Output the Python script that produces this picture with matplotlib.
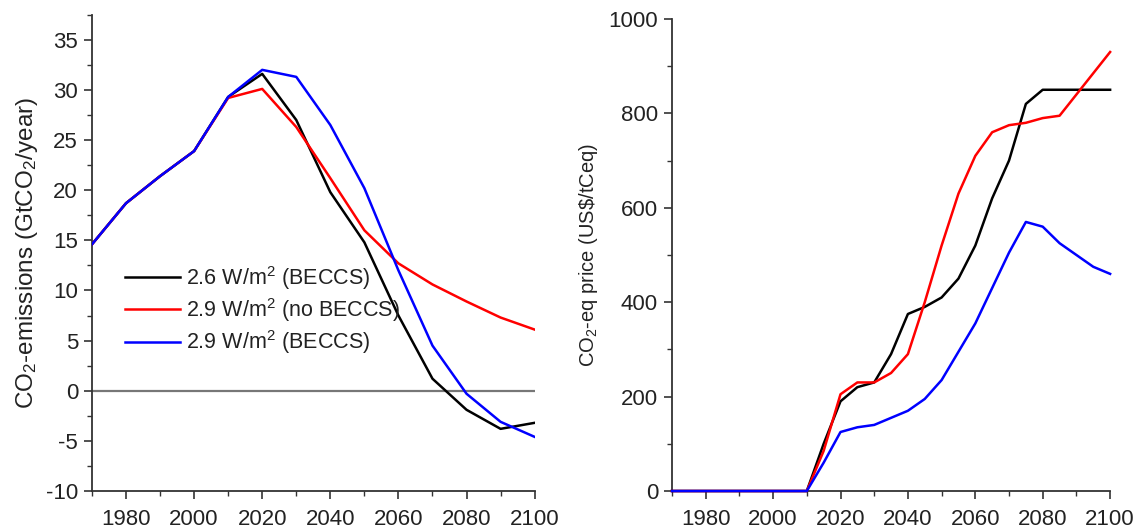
import matplotlib
matplotlib.use("Agg")
import matplotlib.pyplot as plt
from matplotlib.ticker import MultipleLocator

plt.rcParams['font.family'] = ['Liberation Sans', 'DejaVu Sans']
plt.rcParams['mathtext.fontset'] = 'custom'
plt.rcParams['mathtext.rm'] = 'Liberation Sans'
plt.rcParams['mathtext.it'] = 'Liberation Sans'
plt.rcParams['axes.unicode_minus'] = False

# ---- Left panel data: CO2 emissions (GtCO2/year), decadal ----
years_em = [1970, 1980, 1990, 2000, 2010, 2020, 2030, 2040, 2050, 2060, 2070, 2080, 2090, 2100]
em_26_beccs = [14.6, 18.7, 21.4, 23.9, 29.3, 31.6, 27.0, 19.8, 14.8, 7.5, 1.2, -1.9, -3.8, -3.2]
em_29_nobeccs = [14.6, 18.7, 21.4, 23.9, 29.2, 30.1, 26.3, 21.2, 16.0, 12.7, 10.6, 8.9, 7.3, 6.1]
em_29_beccs = [14.6, 18.7, 21.4, 23.9, 29.3, 32.0, 31.3, 26.5, 20.2, 12.0, 4.5, -0.3, -3.1, -4.6]

# ---- Right panel data: CO2-eq price (US$/tCeq) ----
years_pr = [1970, 1980, 1990, 2000, 2010, 2015, 2020, 2025, 2030, 2035, 2040, 2045, 2050,
            2055, 2060, 2065, 2070, 2075, 2080, 2085, 2090, 2095, 2100]
pr_26_beccs = [0, 0, 0, 0, 0, 100, 190, 220, 230, 290, 375, 390, 410,
               450, 520, 620, 700, 820, 850, 850, 850, 850, 850]
pr_29_nobeccs = [0, 0, 0, 0, 0, 85, 205, 230, 230, 250, 290, 400, 520,
                 630, 710, 760, 775, 780, 790, 795, 840, 885, 930]
pr_29_beccs = [0, 0, 0, 0, 0, 60, 125, 135, 140, 155, 170, 195, 235,
               295, 355, 430, 505, 570, 560, 525, 500, 475, 460]

labels = ['2.6 W/m$^2$ (BECCS)', '2.9 W/m$^2$ (no BECCS)', '2.9 W/m$^2$ (BECCS)']
colors = ['#000000', '#ff0000', '#0000ff']

txt = '#222222'
spine_c = '#333333'

fig = plt.figure(figsize=(11.38, 5.31), dpi=100)
ax1 = fig.add_axes([0.0808, 0.0753, 0.389, 0.897])
ax2 = fig.add_axes([0.5905, 0.0753, 0.385, 0.889])

def style(ax):
    for s in ['top', 'right']:
        ax.spines[s].set_visible(False)
    for s in ['left', 'bottom']:
        ax.spines[s].set_color(spine_c)
        ax.spines[s].set_linewidth(1.3)
    ax.tick_params(which='major', direction='out', length=6, width=1.2, colors=spine_c,
                   labelcolor=txt, labelsize=16)
    ax.tick_params(which='minor', direction='out', length=3.5, width=1.0, colors=spine_c)
    ax.xaxis.set_major_locator(MultipleLocator(20))
    ax.xaxis.set_minor_locator(MultipleLocator(10))
    ax.set_xlim(1970, 2100)
    ax.set_xticks([1980, 2000, 2020, 2040, 2060, 2080, 2100])
    ax.tick_params(axis='x', pad=7)
    ax.tick_params(axis='y', pad=4)

style(ax1)
ax1.axhline(0, color='#777777', lw=1.6, zorder=1)
for y, lab, c in zip([em_26_beccs, em_29_nobeccs, em_29_beccs], labels, colors):
    ax1.plot(years_em, y, color=c, lw=1.8, label=lab, zorder=3)
ax1.set_ylim(-10, 37.5)
ax1.yaxis.set_major_locator(MultipleLocator(5))
ax1.yaxis.set_minor_locator(MultipleLocator(2.5))
ax1.set_ylabel('CO$_2$-emissions (GtCO$_2$/year)', fontsize=17.5, color=txt, labelpad=4)
leg = ax1.legend(loc='upper left', bbox_to_anchor=(0.055, 0.495), frameon=False, fontsize=15.5,
                 handlelength=2.55, handletextpad=0.3, labelspacing=0.2, borderaxespad=0)
for t in leg.get_texts():
    t.set_color(txt)

style(ax2)
for y, lab, c in zip([pr_26_beccs, pr_29_nobeccs, pr_29_beccs], labels, colors):
    ax2.plot(years_pr, y, color=c, lw=1.8, label=lab, zorder=3, clip_on=False)
ax2.set_ylim(0, 1000)
ax2.yaxis.set_major_locator(MultipleLocator(200))
ax2.yaxis.set_minor_locator(MultipleLocator(100))
ax2.set_ylabel('CO$_2$-eq price (US\\$/tCeq)', fontsize=14.5, color=txt, labelpad=6)

fig.savefig('out.png', dpi=100)
